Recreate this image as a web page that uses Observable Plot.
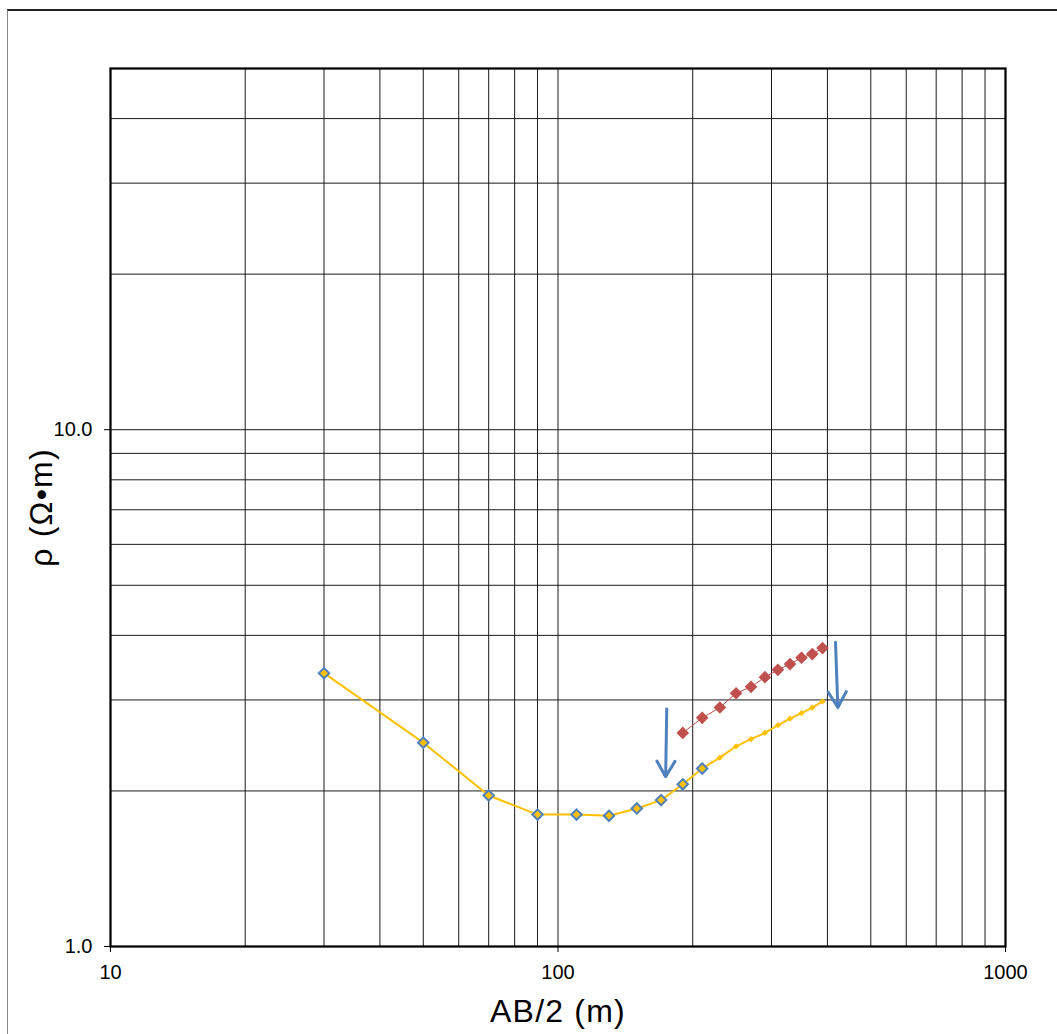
<!DOCTYPE html>
<html><head><meta charset="utf-8">
<script src="https://cdn.jsdelivr.net/npm/d3@7"></script>
<script src="https://cdn.jsdelivr.net/npm/@observablehq/plot@0.6"></script>
<style>
html,body{margin:0;padding:0;background:#fff;overflow:hidden;}
#wrap{position:relative;width:1057px;height:1034px;overflow:hidden;}
#border{position:absolute;left:7px;top:9px;width:1100px;height:1100px;border-top:2px solid #222;border-left:1px solid #888;pointer-events:none;}
#wrap svg{position:absolute;left:0;top:0;}
</style></head><body><div id="wrap"><div id="border"></div></div>
<script>
// Axis ticks and gridlines
const xTicks = [10, 100, 1000];
const yTicks = [1, 10];
const xGrid = [20, 30, 40, 50, 60, 70, 80, 90, 100, 200, 300, 400, 500, 600, 700, 800, 900];
const yGrid = [2, 3, 4, 5, 6, 7, 8, 9, 10, 20, 30, 40];

// Measured sounding (blue-outlined diamonds)
const ab2Main = [30, 50, 70, 90, 110, 130, 150, 170, 190, 210];
const rhoMain = [3.38, 2.48, 1.96, 1.80, 1.80, 1.79, 1.85, 1.92, 2.06, 2.21];

// Continuation (small yellow diamonds)
const ab2Ext = [210, 230, 250, 270, 290, 310, 330, 350, 370, 390];
const rhoExt = [2.21, 2.32, 2.44, 2.52, 2.59, 2.68, 2.76, 2.83, 2.90, 2.98];

// Shifted segment (red diamonds)
const ab2Red = [190, 210, 230, 250, 270, 290, 310, 330, 350, 370, 390];
const rhoRed = [2.59, 2.77, 2.90, 3.09, 3.18, 3.32, 3.43, 3.52, 3.62, 3.68, 3.78];

// Annotation arrows (data units)
const arrowX1 = [175, 417];
const arrowY1 = [2.88, 3.88];
const arrowX2 = [174, 422];
const arrowY2 = [2.13, 2.90];

const mainData = ab2Main.map((x, i) => ({x, y: rhoMain[i]}));
const extData = ab2Ext.map((x, i) => ({x, y: rhoExt[i]}));
const yellowLine = mainData.concat(extData.slice(1));
const redData = ab2Red.map((x, i) => ({x, y: rhoRed[i]}));
const arrows = arrowX1.map((x1, i) => ({x1, y1: arrowY1[i], x2: arrowX2[i], y2: arrowY2[i]}));

const chart = Plot.plot({
  width: 1057,
  height: 1034,
  marginLeft: 110,
  marginTop: 68,
  marginRight: 52,
  marginBottom: 88,
  style: {fontFamily: "'Liberation Sans', Arial, sans-serif", fontSize: "20px", color: "#000", background: "transparent", overflow: "visible"},
  x: {type: "log", domain: [10, 1000], axis: null},
  y: {type: "log", domain: [1, 50], axis: null},
  marks: [
    Plot.ruleX(xGrid, {stroke: "#1a1a1a", strokeWidth: 1}),
    Plot.ruleY(yGrid, {stroke: "#1a1a1a", strokeWidth: 1}),
    Plot.axisX(xTicks, {anchor: "bottom", tickSize: 6, tickPadding: 12, tickFormat: d => String(d), label: null, fontSize: 20, className: "ticklab"}),
    Plot.axisY(yTicks, {anchor: "left", tickSize: 6, tickPadding: 12, tickFormat: d => d.toFixed(1), label: null, fontSize: 20, className: "ticklab"}),
    Plot.frame({stroke: "#000", strokeWidth: 2.25}),
    Plot.line(redData, {x: "x", y: "y", stroke: "#C0504D", strokeWidth: 1}),
    Plot.line(yellowLine, {x: "x", y: "y", stroke: "#FFC000", strokeWidth: 2}),
    Plot.dot(redData, {x: "x", y: "y", symbol: "diamond2", r: 5.7, fill: "#C0504D", stroke: "none"}),
    Plot.dot(extData.slice(1), {x: "x", y: "y", symbol: "diamond2", r: 2.8, fill: "#FFC000", stroke: "none"}),
    Plot.dot(mainData, {x: "x", y: "y", symbol: "diamond2", r: 4.7, fill: "#FFC000", stroke: "#4F81BD", strokeWidth: 2}),
    Plot.arrow(arrows, {x1: "x1", y1: "y1", x2: "x2", y2: "y2", stroke: "#4F81BD", strokeWidth: 3, headLength: 9, headAngle: 60}),
    Plot.text(["AB/2 (m)"], {text: d => d, frameAnchor: "bottom", dy: 65, fontSize: 32, textAnchor: "middle", lineAnchor: "middle", className: "axtitle"}),
    Plot.text(["ρ (Ω•m)"], {text: d => d, frameAnchor: "left", dx: -69, rotate: -90, fontSize: 32, textAnchor: "middle", lineAnchor: "middle", className: "axtitle"})
  ]
});
d3.select(chart).selectAll(".axtitle text").attr("letter-spacing", "1.2px");
d3.select(chart).selectAll(".ticklab text").attr("font-size", 20).style("font-size", "20px");
document.getElementById("wrap").appendChild(chart);
</script>
</body></html>
